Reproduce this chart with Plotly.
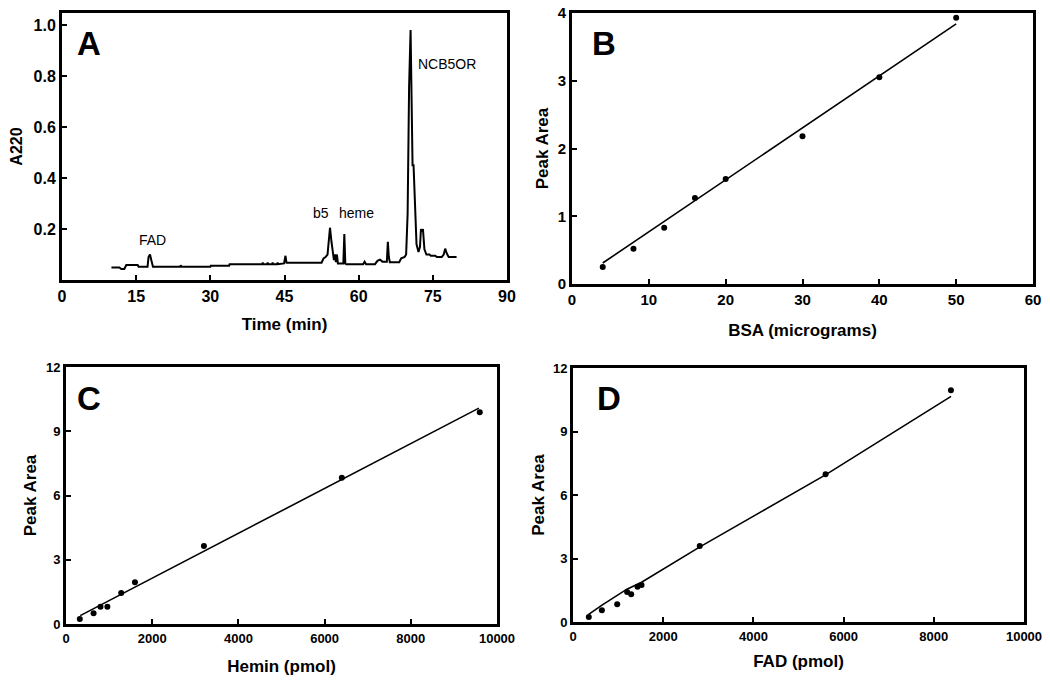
import plotly.graph_objects as go

W, H = 1050, 682

# ---------------- Data ----------------
# Panel A: chromatogram (A220 vs time)
time_min = [10.0, 11.6, 12.0, 12.6, 13.0, 15.3, 15.5, 17.3, 17.5, 17.8, 18.1, 18.4,
            23.9, 24.0, 24.2, 30.0, 30.1, 33.8, 33.9, 40.5, 40.6, 40.7, 41.5, 41.6, 41.7,
            42.5, 42.6, 42.7, 43.5, 43.6, 43.7, 44.9, 45.2, 45.4, 45.6, 52.5, 52.9, 53.3,
            53.7, 54.0, 54.2, 54.5, 54.8, 55.0, 55.2, 55.4, 55.6, 55.8, 56.0, 56.9, 57.1,
            57.3, 57.5, 60.9, 61.2, 61.5, 63.3, 63.8, 64.3, 64.8, 65.7, 65.9, 66.1, 66.3,
            68.2, 68.6, 69.3, 69.6, 69.9, 70.2, 70.5, 70.7, 70.9, 71.1, 71.4, 71.7, 72.1,
            72.4, 72.6, 72.8, 73.0, 73.3, 73.7, 74.3, 74.6, 75.5, 75.8, 76.8, 77.2, 77.5,
            77.8, 78.2, 79.8]
a220 = [0.049, 0.049, 0.043, 0.043, 0.059, 0.059, 0.052, 0.052, 0.090, 0.100, 0.075, 0.052,
        0.052, 0.057, 0.052, 0.052, 0.056, 0.056, 0.062, 0.062, 0.068, 0.062, 0.062, 0.068, 0.062,
        0.062, 0.068, 0.062, 0.062, 0.068, 0.062, 0.065, 0.095, 0.068, 0.068, 0.068, 0.085, 0.090,
        0.100, 0.150, 0.205, 0.150, 0.110, 0.078, 0.100, 0.070, 0.100, 0.065, 0.065, 0.065, 0.180,
        0.065, 0.062, 0.062, 0.072, 0.062, 0.062, 0.075, 0.080, 0.072, 0.072, 0.150, 0.090, 0.070,
        0.070, 0.085, 0.090, 0.100, 0.260, 0.760, 0.980, 0.760, 0.450, 0.450, 0.250, 0.140, 0.110,
        0.130, 0.200, 0.190, 0.200, 0.120, 0.100, 0.100, 0.095, 0.095, 0.090, 0.090, 0.100, 0.123,
        0.105, 0.090, 0.090]
peak_labels = ["FAD", "b5", "heme", "NCB5OR"]
peak_label_x = [18.4, 52.3, 59.6, 77.9]
peak_label_y = [0.156, 0.262, 0.262, 0.846]

# Panel B: BSA standard curve
bsa_ug = [4, 8, 12, 16, 20, 30, 40, 50]
bsa_area = [0.25, 0.52, 0.83, 1.27, 1.55, 2.18, 3.05, 3.93]
bsa_fit_x = [4, 50]
bsa_fit_y = [0.31, 3.84]

# Panel C: Hemin standard curve
hemin_pmol = [320, 640, 800, 960, 1280, 1600, 3200, 6400, 9600]
hemin_area = [0.23, 0.50, 0.81, 0.81, 1.45, 1.95, 3.64, 6.83, 9.89]
hemin_fit_x = [330, 9580]
hemin_fit_y = [0.39, 10.08]

# Panel D: FAD standard curve
fad_pmol = [350, 640, 980, 1200, 1290, 1430, 1520, 2810, 5600, 8380]
fad_area = [0.24, 0.55, 0.84, 1.42, 1.31, 1.67, 1.75, 3.59, 6.98, 10.95]
fad_fit_x = [347, 643, 1196, 1521, 2814, 5598, 8383]
fad_fit_y = [0.36, 0.80, 1.55, 1.88, 3.55, 6.95, 10.66]

# Tick values / labels
a_xticks = [0, 15, 30, 45, 60, 75, 90]
a_yticks = [0.2, 0.4, 0.6, 0.8, 1.0]
a_ylabels = ["0.2", "0.4", "0.6", "0.8", "1.0"]
b_xticks = [0, 10, 20, 30, 40, 50, 60]
b_yticks = [0, 1, 2, 3, 4]
cd_xticks = [0, 2000, 4000, 6000, 8000, 10000]
cd_yticks = [0, 3, 6, 9, 12]

# ---------------- Figure ----------------
FONT = "Liberation Sans, Arial, sans-serif"
fig = go.Figure()

line_col = "black"
fig.add_trace(go.Scatter(x=time_min, y=a220, mode="lines",
                         line=dict(color=line_col, width=2), xaxis="x", yaxis="y"))
fig.add_trace(go.Scatter(x=bsa_fit_x, y=bsa_fit_y, mode="lines",
                         line=dict(color=line_col, width=1.6), xaxis="x2", yaxis="y2"))
fig.add_trace(go.Scatter(x=bsa_ug, y=bsa_area, mode="markers",
                         marker=dict(color=line_col, size=6), xaxis="x2", yaxis="y2"))
fig.add_trace(go.Scatter(x=hemin_fit_x, y=hemin_fit_y, mode="lines",
                         line=dict(color=line_col, width=1.6), xaxis="x3", yaxis="y3"))
fig.add_trace(go.Scatter(x=hemin_pmol, y=hemin_area, mode="markers",
                         marker=dict(color=line_col, size=6), xaxis="x3", yaxis="y3"))
fig.add_trace(go.Scatter(x=fad_fit_x, y=fad_fit_y, mode="lines",
                         line=dict(color=line_col, width=1.6), xaxis="x4", yaxis="y4"))
fig.add_trace(go.Scatter(x=fad_pmol, y=fad_area, mode="markers",
                         marker=dict(color=line_col, size=6), xaxis="x4", yaxis="y4"))


def dom_x(a, b):
    return [a / W, b / W]


def dom_y(top, bottom):
    return [1 - bottom / H, 1 - top / H]


def axis(domain, rng, tickvals, labels, title, tsize, tickfont, standoff, anchor):
    return dict(domain=domain, range=rng, tickvals=tickvals,
                ticktext=[f"<b>{t}</b>" for t in labels],
                showline=True, linewidth=3, linecolor="black", mirror=True,
                ticks="inside", ticklen=5, tickwidth=2, tickcolor="black",
                showgrid=False, zeroline=False, anchor=anchor, automargin=False,
                ticklabeloverflow="allow",
                tickfont=dict(family=FONT, size=tickfont, color="black"),
                title=dict(text=f"<b>{title}</b>", standoff=standoff,
                           font=dict(family=FONT, size=tsize, color="black")))


fig.update_layout(
    width=W, height=H,
    margin=dict(l=0, r=0, t=0, b=0, autoexpand=False),
    paper_bgcolor="white", plot_bgcolor="white",
    showlegend=False,
    xaxis=axis(dom_x(62, 507), [0, 90], a_xticks, [str(v) for v in a_xticks],
               "Time (min)", 17, 16, 14, "y"),
    yaxis=axis(dom_y(13, 280), [0, 1.047], a_yticks, a_ylabels, "A220", 16, 16, 7, "x"),
    xaxis2=axis(dom_x(572, 1033), [0, 60], b_xticks, [str(v) for v in b_xticks],
                "BSA (micrograms)", 17, 15, 18, "y2"),
    yaxis2=axis(dom_y(13, 284), [0, 4], b_yticks, [str(v) for v in b_yticks],
                "Peak Area", 17, 15, 5, "x2"),
    xaxis3=axis(dom_x(66, 497), [0, 10000], cd_xticks, [str(v) for v in cd_xticks],
                "Hemin (pmol)", 17, 13, 16, "y3"),
    yaxis3=axis(dom_y(367, 624), [0, 12], cd_yticks, [str(v) for v in cd_yticks],
                "Peak Area", 17, 13, 5, "x3"),
    xaxis4=axis(dom_x(573, 1024), [0, 10000], cd_xticks, [str(v) for v in cd_xticks],
                "FAD (pmol)", 17, 13, 13, "y4"),
    yaxis4=axis(dom_y(368, 622), [0, 12], cd_yticks, [str(v) for v in cd_yticks],
                "Peak Area", 17, 13, 4, "x4"),
)

# Peak annotations in panel A
for txt, px, py in zip(peak_labels, peak_label_x, peak_label_y):
    fig.add_annotation(x=px, y=py, xref="x", yref="y", text=txt, showarrow=False,
                       font=dict(family=FONT, size=14, color="black"))

# Panel letters (paper pixel centres)
letters = ["A", "B", "C", "D"]
letter_cx = [89, 604, 89, 609]
letter_cy = [44, 44, 398, 398]
for letter, cx, cy in zip(letters, letter_cx, letter_cy):
    fig.add_annotation(x=cx / W, y=1 - cy / H, xref="paper", yref="paper",
                       text=f"<b>{letter}</b>", showarrow=False,
                       xanchor="center", yanchor="middle",
                       font=dict(family=FONT, size=33, color="black"))

fig.write_html("out.html",
               config={"displayModeBar": False},
               post_script="document.body.style.margin='0';document.body.style.overflow='hidden';")
